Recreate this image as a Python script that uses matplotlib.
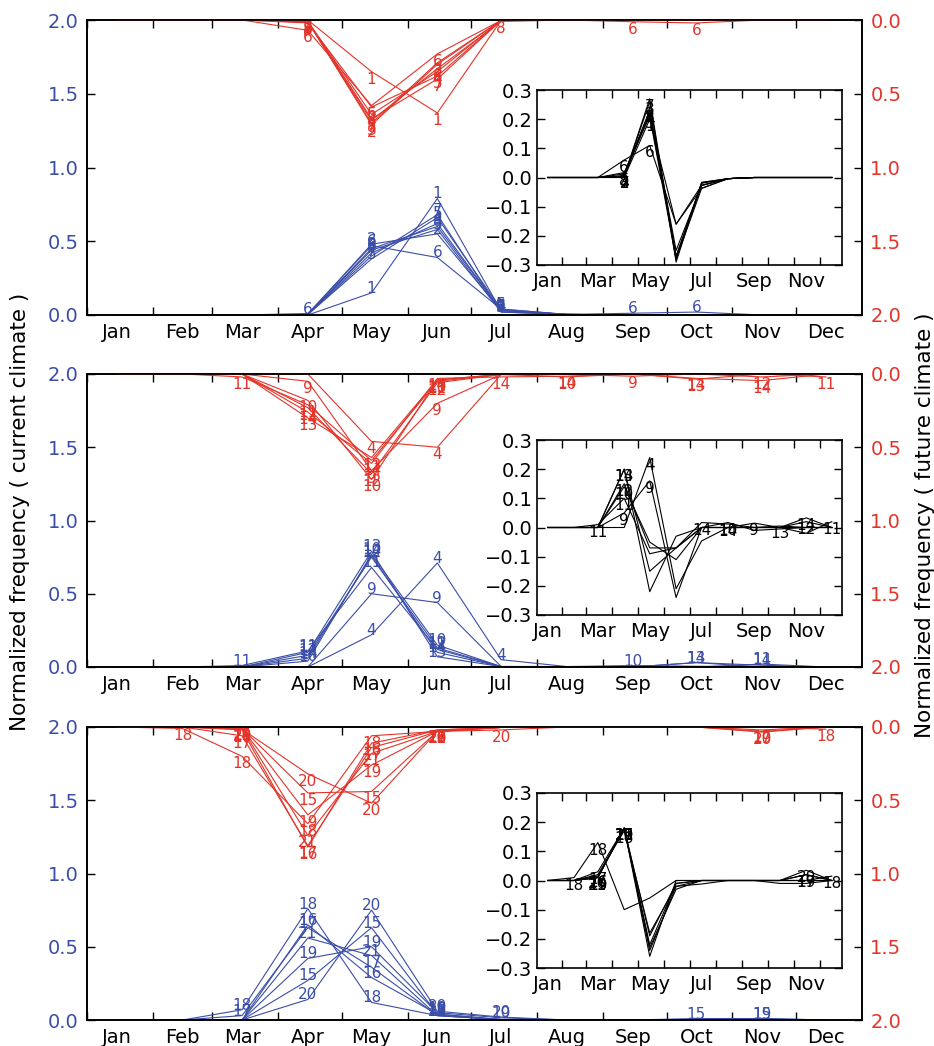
import matplotlib
matplotlib.use("Agg")
import matplotlib.pyplot as plt

# ---- data: normalized monthly frequency, Jan..Dec ----
months = ["Jan", "Feb", "Mar", "Apr", "May", "Jun",
          "Jul", "Aug", "Sep", "Oct", "Nov", "Dec"]
inset_months = ["Jan", "Mar", "May", "Jul", "Sep", "Nov"]

labels_1 = [1, 2, 3, 4, 5, 6, 7, 8]
current_1 = {
    1: [0, 0, 0, 0.000, 0.15, 0.79, 0.030, 0.004, 0, 0, 0, 0],
    2: [0, 0, 0, 0.003, 0.48, 0.55, 0.030, 0.004, 0, 0, 0, 0],
    3: [0, 0, 0, 0.003, 0.44, 0.58, 0.020, 0.004, 0, 0, 0, 0],
    4: [0, 0, 0, 0.003, 0.42, 0.62, 0.030, 0.004, 0, 0, 0, 0],
    5: [0, 0, 0, 0.003, 0.38, 0.66, 0.040, 0.004, 0, 0, 0, 0],
    6: [0, 0, 0, 0.010, 0.47, 0.39, 0.040, 0.004, 0.012, 0.020, 0, 0],
    7: [0, 0, 0, 0.003, 0.40, 0.68, 0.020, 0.004, 0, 0, 0, 0],
    8: [0, 0, 0, 0.003, 0.45, 0.60, 0.030, 0.004, 0, 0, 0, 0],
}
future_1 = {
    1: [0, 0, 0, 0.000, 0.35, 0.63, 0.003, 0, 0, 0, 0, 0],
    2: [0, 0, 0, 0.008, 0.71, 0.30, 0.003, 0, 0, 0, 0, 0],
    3: [0, 0, 0, 0.008, 0.70, 0.29, 0.003, 0, 0, 0, 0, 0],
    4: [0, 0, 0, 0.008, 0.64, 0.35, 0.003, 0, 0, 0, 0, 0],
    5: [0, 0, 0, 0.020, 0.59, 0.38, 0.003, 0, 0, 0, 0, 0],
    6: [0, 0, 0, 0.070, 0.58, 0.23, 0.003, 0, 0.012, 0.020, 0, 0],
    7: [0, 0, 0, 0.008, 0.67, 0.40, 0.003, 0, 0, 0, 0, 0],
    8: [0, 0, 0, 0.015, 0.68, 0.33, 0.010, 0, 0, 0, 0, 0],
}

labels_2 = [4, 9, 10, 11, 12, 13, 14]
current_2 = {
    4:  [0, 0, 0, 0.000, 0.22, 0.71, 0.050, 0.003, 0, 0, 0, 0],
    9:  [0, 0, 0, 0.000, 0.50, 0.44, 0.004, 0.003, 0, 0, 0, 0],
    10: [0, 0, 0, 0.040, 0.77, 0.15, 0.003, 0.003, 0.010, 0.005, 0, 0],
    11: [0, 0, 0.01, 0.110, 0.68, 0.12, 0.003, 0.003, 0, 0, 0.020, 0],
    12: [0, 0, 0, 0.080, 0.75, 0.13, 0.003, 0.003, 0, 0, 0, 0],
    13: [0, 0, 0, 0.100, 0.79, 0.07, 0.003, 0.003, 0, 0.030, 0, 0],
    14: [0, 0, 0, 0.060, 0.76, 0.10, 0.003, 0.003, 0, 0.030, 0.012, 0],
}
future_2 = {
    4:  [0, 0, 0, 0.000, 0.46, 0.50, 0.004, 0.003, 0, 0, 0, 0],
    9:  [0, 0, 0, 0.050, 0.66, 0.20, 0.004, 0.003, 0.015, 0, 0, 0],
    10: [0, 0, 0, 0.180, 0.72, 0.04, 0.003, 0.020, 0, 0, 0, 0],
    11: [0, 0, 0.02, 0.210, 0.59, 0.05, 0.003, 0.003, 0, 0, 0, 0.020],
    12: [0, 0, 0, 0.230, 0.68, 0.06, 0.003, 0.003, 0, 0, 0.020, 0],
    13: [0, 0, 0, 0.300, 0.57, 0.04, 0.003, 0.003, 0, 0.035, 0, 0],
    14: [0, 0, 0, 0.260, 0.61, 0.03, 0.020, 0.015, 0, 0.030, 0.045, 0],
}

labels_3 = [15, 16, 17, 18, 19, 20, 21]
current_3 = {
    15: [0, 0, 0, 0.27, 0.63, 0.04, 0.003, 0, 0, 0.010, 0.010, 0],
    16: [0, 0, 0, 0.65, 0.29, 0.04, 0.003, 0, 0, 0, 0, 0],
    17: [0, 0, 0.03, 0.63, 0.36, 0.03, 0.003, 0, 0, 0, 0, 0],
    18: [0, 0, 0.07, 0.76, 0.12, 0.03, 0.003, 0, 0, 0, 0, 0],
    19: [0, 0, 0, 0.42, 0.50, 0.05, 0.015, 0, 0, 0, 0.010, 0],
    20: [0, 0, 0, 0.14, 0.75, 0.06, 0.020, 0, 0, 0, 0, 0],
    21: [0, 0, 0, 0.56, 0.44, 0.03, 0.003, 0, 0, 0, 0, 0],
}
future_3 = {
    15: [0, 0, 0.010, 0.45, 0.44, 0.03, 0.003, 0, 0, 0, 0, 0],
    16: [0, 0, 0.020, 0.82, 0.11, 0.02, 0.003, 0, 0, 0, 0, 0],
    17: [0, 0, 0.060, 0.81, 0.14, 0.02, 0.003, 0, 0, 0, 0.020, 0],
    18: [0, 0.01, 0.200, 0.66, 0.06, 0.03, 0.003, 0, 0, 0, 0, 0.015],
    19: [0, 0, 0.010, 0.60, 0.26, 0.03, 0.003, 0, 0, 0, 0.030, 0],
    20: [0, 0, 0.015, 0.32, 0.52, 0.03, 0.020, 0, 0, 0, 0.035, 0],
    21: [0, 0, 0.010, 0.74, 0.18, 0.03, 0.003, 0, 0, 0, 0, 0],
}

panels = [(labels_1, current_1, future_1),
          (labels_2, current_2, future_2),
          (labels_3, current_3, future_3)]

# ---- style ----
BLUE = "#3a4ea8"
RED = "#e3342a"
W, H = 934, 1046
month_start = [0, 31, 59, 90, 120, 151, 181, 212, 243, 273, 304, 334]
month_mid = [d + 14 for d in month_start]

plt.rcParams["font.family"] = "DejaVu Sans"
plt.rcParams["xtick.direction"] = "in"
plt.rcParams["ytick.direction"] = "in"

fig = plt.figure(figsize=(W / 100, H / 100), dpi=100)


def px_rect(x0, y0, x1, y1):
    return [x0 / W, 1 - y1 / H, (x1 - x0) / W, (y1 - y0) / H]


main_boxes = [(87, 20, 862, 315), (87, 374, 862, 667), (87, 727, 862, 1020)]
inset_boxes = [(537, 90, 842, 265), (537, 440, 842, 615), (537, 793, 842, 968)]

for (labs, cur, fut), mb, ib in zip(panels, main_boxes, inset_boxes):
    ax = fig.add_axes(px_rect(*mb))
    ax2 = ax.twinx()
    for lab in labs:
        ax.plot(month_mid, cur[lab], color=BLUE, lw=0.8)
        ax2.plot(month_mid, fut[lab], color=RED, lw=0.8)
        for x, v in zip(month_mid, cur[lab]):
            if v >= 0.008:
                ax.text(x, v, str(lab), color=BLUE, fontsize=11,
                        ha="center", va="baseline")
        for x, v in zip(month_mid, fut[lab]):
            if v >= 0.008:
                ax2.text(x, v, str(lab), color=RED, fontsize=11,
                         ha="center", va="top")

    ax.set_xlim(0, 365)
    ax.set_ylim(0, 2)
    ax2.set_ylim(2, 0)
    ax.set_yticks([0, 0.5, 1.0, 1.5, 2.0])
    ax2.set_yticks([0, 0.5, 1.0, 1.5, 2.0])
    ax.set_yticklabels([f"{t:.1f}" for t in ax.get_yticks()])
    ax2.set_yticklabels([f"{t:.1f}" for t in ax2.get_yticks()])
    ax.set_xticks(month_start)
    ax.set_xticklabels([])
    ax.set_xticks(month_mid, minor=True)
    ax.set_xticklabels(months, minor=True)
    ax.tick_params(axis="x", which="major", top=True, length=6, width=1)
    ax.tick_params(axis="x", which="minor", length=0, labelsize=14, pad=6)
    ax.tick_params(axis="y", length=6, width=1, labelsize=14,
                   labelcolor=BLUE, pad=6)
    ax2.tick_params(axis="y", length=6, width=1, labelsize=14,
                    labelcolor=RED, pad=6)
    for sp in list(ax.spines.values()) + list(ax2.spines.values()):
        sp.set_linewidth(1.2)

    # inset: future minus current
    axi = fig.add_axes(px_rect(*ib))
    axi.set_zorder(5)
    for lab in labs:
        diff = [f - c for f, c in zip(fut[lab], cur[lab])]
        axi.plot(month_mid, diff, color="black", lw=0.8)
        for x, v in zip(month_mid, diff):
            if v >= 0.004:
                axi.text(x, v, str(lab), color="black", fontsize=11,
                         ha="center", va="top")
    axi.set_xlim(1.5, 360)
    axi.set_ylim(-0.3, 0.3)
    axi.set_yticks([-0.3, -0.2, -0.1, 0.0, 0.1, 0.2, 0.3])
    axi.set_xticks(month_start[1:])
    axi.set_xticklabels([])
    axi.set_xticks(month_mid[::2], minor=True)
    axi.set_xticklabels(inset_months, minor=True)
    axi.tick_params(axis="x", which="major", top=True, length=6, width=1)
    axi.tick_params(axis="x", which="minor", length=0, labelsize=14, pad=5)
    axi.tick_params(axis="y", right=True, length=6, width=1, labelsize=14)
    for sp in axi.spines.values():
        sp.set_linewidth(1.2)

fig.text(20 / W, 1 - 512 / H, "Normalized frequency ( current climate )",
         rotation=90, ha="center", va="center", fontsize=15.5)
fig.text(925 / W, 1 - 525 / H, "Normalized frequency ( future climate )",
         rotation=90, ha="center", va="center", fontsize=15.5)

fig.savefig("out.png", dpi=100)
